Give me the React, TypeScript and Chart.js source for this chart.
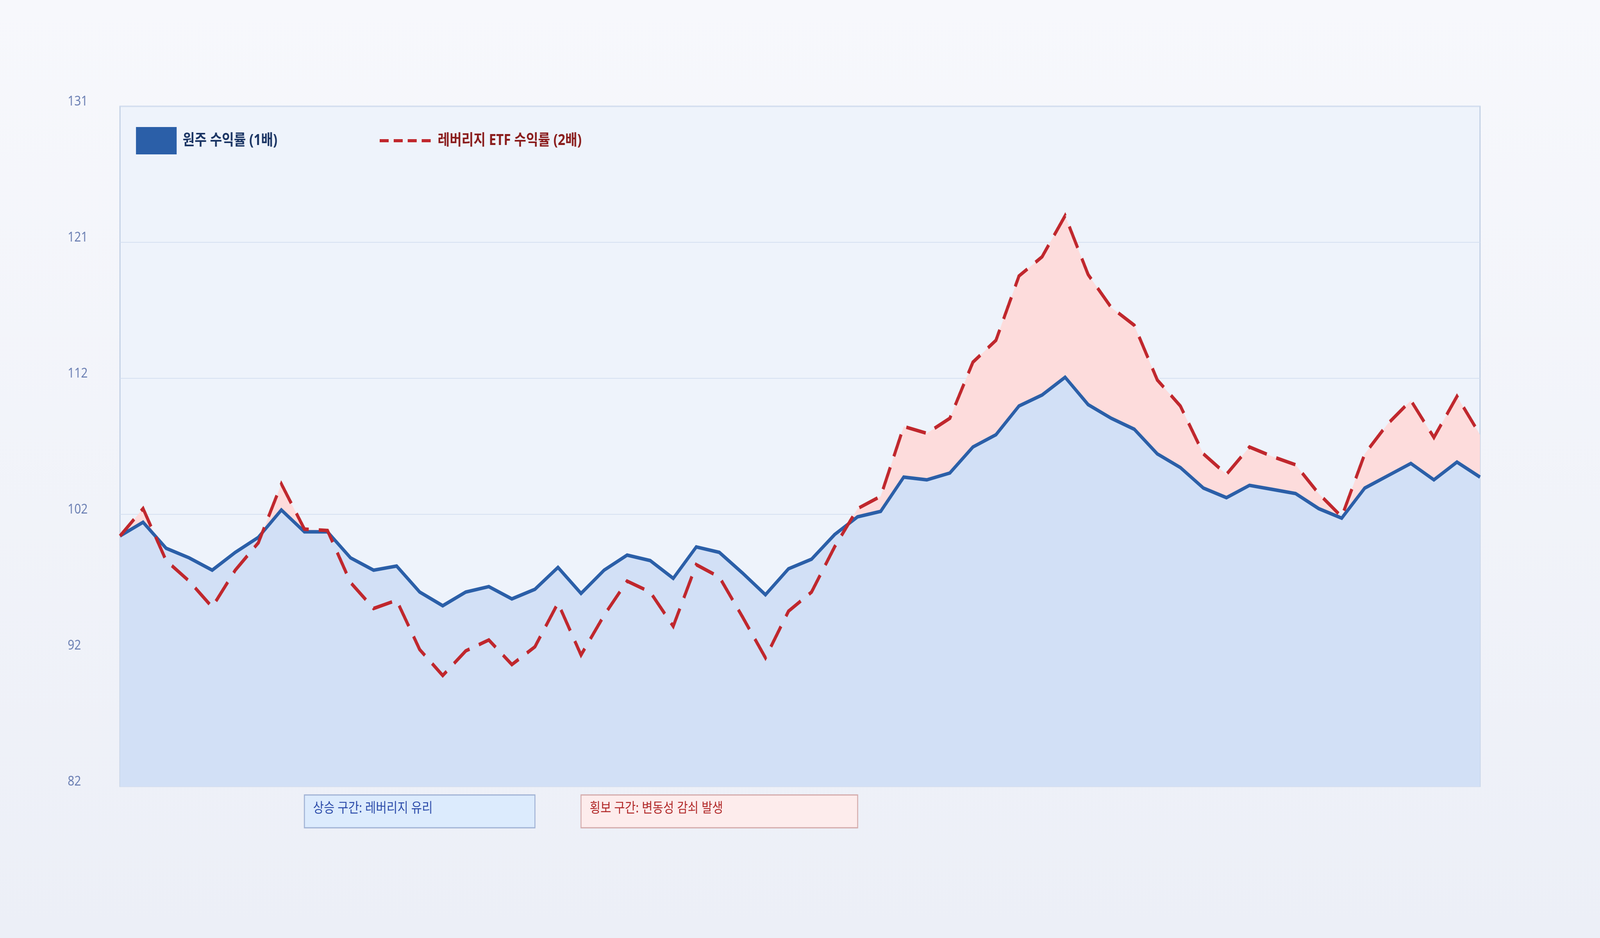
import React, { useEffect, useRef } from 'react';
import { Chart, registerables } from 'chart.js';

Chart.register(...registerables);

const FONT = "'Noto Sans', 'Noto Sans CJK KR', sans-serif";

// 원주(1배) 누적 수익률 지수
const baseReturn = [
  100.0, 101.0, 99.1, 98.4, 97.5, 98.8, 99.9, 101.9, 100.3, 100.3,
  98.4, 97.5, 97.8, 95.9, 94.9, 95.9, 96.3, 95.4, 96.1, 97.7,
  95.8, 97.5, 98.6, 98.2, 96.9, 99.2, 98.8, 97.3, 95.7, 97.6,
  98.3, 100.1, 101.4, 101.8, 104.3, 104.1, 104.6, 106.5, 107.4, 109.5,
  110.3, 111.6, 109.6, 108.6, 107.8, 106.0, 105.0, 103.5, 102.8, 103.7,
  103.4, 103.1, 102.0, 101.3, 103.5, 104.4, 105.3, 104.1, 105.4, 104.3,
];

// 레버리지 ETF(2배) 누적 수익률 지수
const leveragedReturn = [
  100.0, 102.0, 98.2, 96.7, 94.8, 97.5, 99.5, 103.8, 100.5, 100.4,
  96.6, 94.7, 95.3, 91.7, 89.8, 91.6, 92.4, 90.6, 91.9, 95.1,
  91.3, 94.2, 96.7, 95.9, 93.4, 97.9, 97.0, 94.1, 91.1, 94.5,
  95.9, 99.2, 102.0, 102.9, 108.0, 107.5, 108.6, 112.7, 114.3, 119.0,
  120.4, 123.4, 119.1, 116.7, 115.4, 111.4, 109.5, 106.0, 104.5, 106.5,
  105.8, 105.2, 103.1, 101.4, 106.0, 108.2, 109.9, 107.2, 110.2, 107.4,
];

const days = baseReturn.map((_, i) => `${i + 1}일`);

const yMin = 81.7;
const yMax = 131.4;

const seriesNames = ['원주 수익률 (1배)', '레버리지 ETF 수익률 (2배)'];

const zones = [
  { from: 8, to: 18, label: '상승 구간: 레버리지 유리', fill: '#dcebfd', border: '#a0b2d4', text: '#2848a8' },
  { from: 20, to: 32, label: '횡보 구간: 변동성 감쇠 발생', fill: '#fdecec', border: '#d3aaaa', text: '#b02525' },
];

const framePlugin = {
  id: 'frame',
  beforeDraw(chart: any) {
    const { ctx, chartArea: a } = chart;
    ctx.save();
    ctx.fillStyle = '#eef3fb';
    ctx.fillRect(a.left, a.top, a.width, a.height);
    ctx.strokeStyle = '#bccbe2';
    ctx.lineWidth = 3;
    ctx.strokeRect(a.left, a.top, a.width, a.height);
    ctx.restore();
  },
  afterDraw(chart: any) {
    const { ctx, chartArea: a, scales } = chart;
    ctx.save();

    // legend inside the plot
    const ly = a.top + 88;
    const l1 = a.left + 48;
    ctx.textBaseline = 'middle';
    ctx.font = `bold 39px ${FONT}`;
    ctx.fillStyle = '#2b5fa8';
    ctx.fillRect(l1, ly - 35, 122, 70);
    ctx.fillStyle = '#1b3564';
    ctx.fillText(seriesNames[0], l1 + 140, ly);

    const l2 = a.left + 779;
    ctx.strokeStyle = '#c0272d';
    ctx.lineWidth = 8;
    ctx.setLineDash([27, 15]);
    ctx.beginPath();
    ctx.moveTo(l2, ly);
    ctx.lineTo(l2 + 153, ly);
    ctx.stroke();
    ctx.setLineDash([]);
    ctx.fillStyle = '#8a1c1c';
    ctx.fillText(seriesNames[1], l2 + 174, ly);

    // zone notes under the plot
    const top = a.bottom + 22;
    const h = 84;
    ctx.font = `35px ${FONT}`;
    zones.forEach((z) => {
      const x0 = scales.x.getPixelForValue(z.from);
      const x1 = scales.x.getPixelForValue(z.to);
      ctx.fillStyle = z.fill;
      ctx.fillRect(x0, top, x1 - x0, h);
      ctx.strokeStyle = z.border;
      ctx.lineWidth = 3;
      ctx.strokeRect(x0, top, x1 - x0, h);
      ctx.fillStyle = z.text;
      ctx.fillText(z.label, x0 + 26, top + 35);
    });
    ctx.restore();
  },
};

const App: React.FC = () => {
  const chartRef = useRef<HTMLCanvasElement | null>(null);

  useEffect(() => {
    const ctx = chartRef.current?.getContext('2d');
    if (!ctx) return;
    const chart = new Chart(ctx, {
      type: 'line',
      data: {
        labels: days,
        datasets: [
          {
            label: seriesNames[0],
            data: baseReturn,
            borderColor: '#2b5fa8',
            borderWidth: 9,
            backgroundColor: '#d2e0f6',
            fill: 'start',
            pointRadius: 0,
            tension: 0,
            order: 1,
          },
          {
            label: seriesNames[1],
            data: leveragedReturn,
            borderColor: '#c0272d',
            borderWidth: 9,
            borderDash: [60, 30],
            fill: { target: 0, above: '#fddcdc', below: 'rgba(0,0,0,0)' },
            pointRadius: 0,
            tension: 0,
            order: 0,
          },
        ],
      },
      options: {
        animation: false,
        // drawn at a fixed 4800x2400 and fitted to the window with CSS
        responsive: false,
        devicePixelRatio: 1,
        layout: { padding: { left: 203, top: 272, right: 360, bottom: 388 } },
        plugins: {
          legend: { display: false },
          tooltip: { enabled: false },
          filler: { drawTime: 'beforeDatasetsDraw' },
        },
        scales: {
          x: { display: false },
          y: {
            min: yMin,
            max: yMax,
            afterFit: (s: any) => {
              s.width = 157;
            },
            grid: { color: '#d5e0f1', lineWidth: 2, drawTicks: false },
            border: { display: false },
            ticks: {
              count: 6,
              color: '#6b7fb3',
              font: { size: 35, family: FONT },
              crossAlign: 'far',
              labelOffset: -12,
              padding: 0,
              callback: (v: any) => Math.round(Number(v)),
            },
          },
        },
      },
      plugins: [framePlugin],
    } as any);

    return () => {
      chart.destroy();
    };
  }, []);

  return (
    <div
      style={{
        position: 'fixed',
        inset: 0,
        background: 'linear-gradient(180deg, #f7f8fc 0%, #eceff7 100%)',
      }}
    >
      <canvas
        ref={chartRef}
        width={4800}
        height={2400}
        style={{ display: 'block', width: '100%', height: '100%' }}
      />
    </div>
  );
};

export default App;
